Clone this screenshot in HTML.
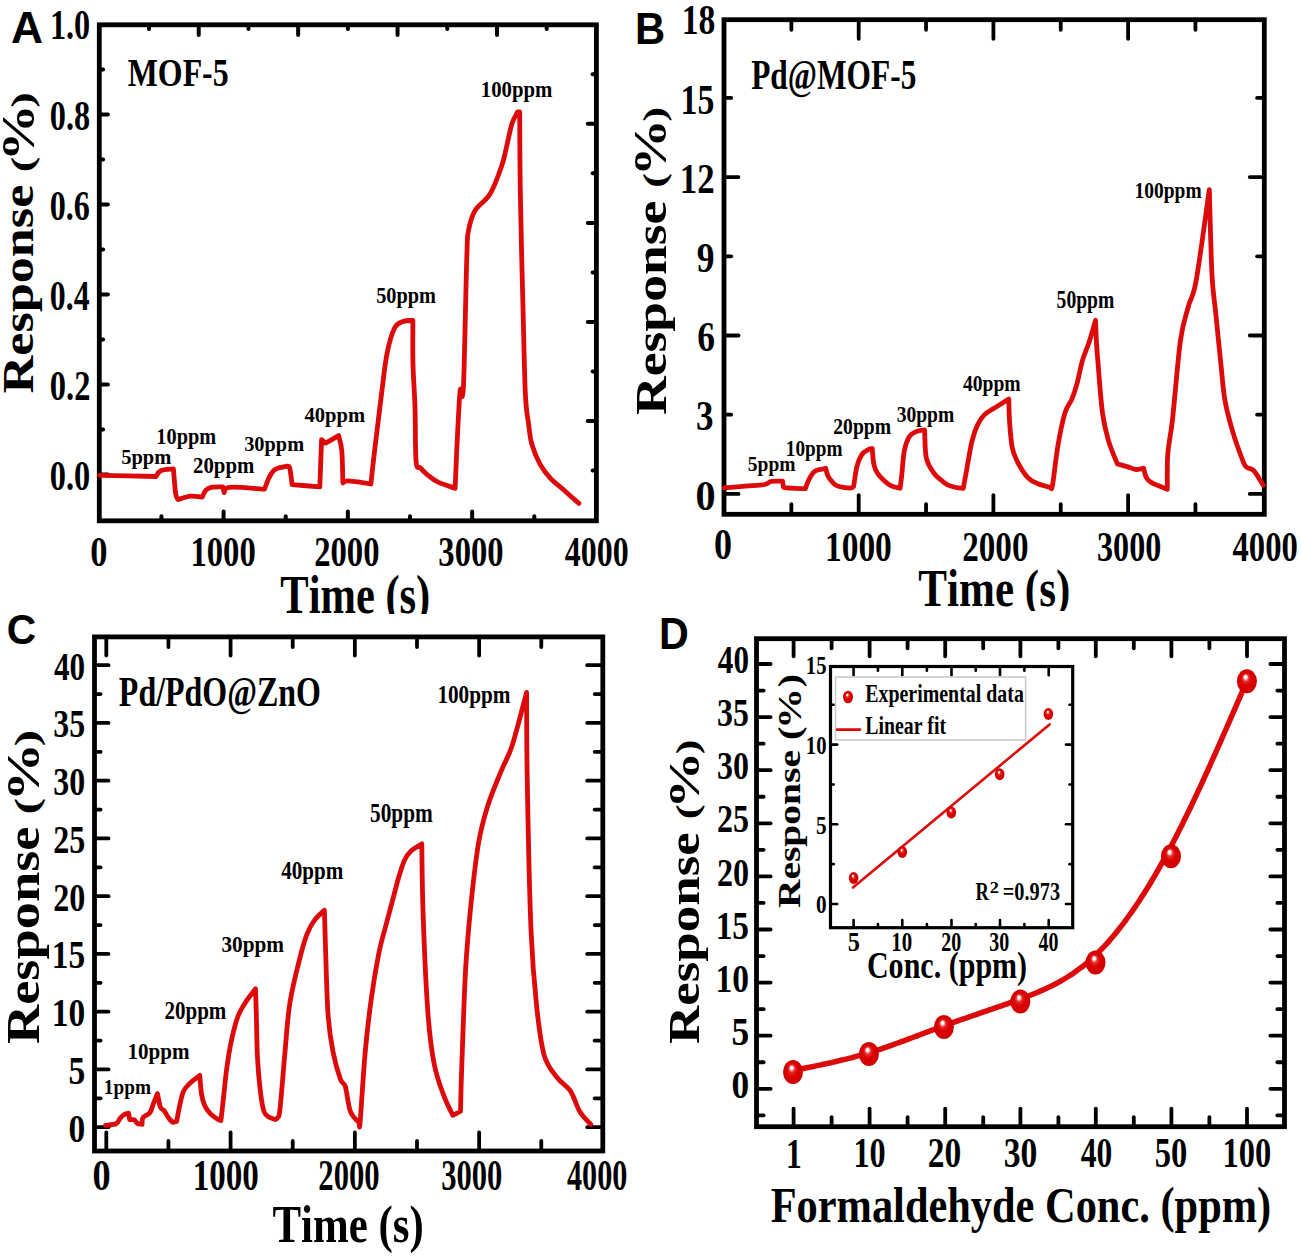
<!DOCTYPE html>
<html><head><meta charset="utf-8"><style>
html,body{margin:0;padding:0;background:#fff;overflow:hidden}
svg{display:block;font-kerning:none}
</style></head><body>
<svg width="1301" height="1256" viewBox="0 0 1301 1256">
<defs>
<radialGradient id="bg" cx="0.5" cy="0.5" r="0.5" fx="0.42" fy="0.3">
<stop offset="0" stop-color="#fff"/><stop offset="0.12" stop-color="#fff"/><stop offset="0.3" stop-color="#e43030"/><stop offset="0.55" stop-color="#dc0000"/><stop offset="1" stop-color="#cf0000"/>
</radialGradient>
<clipPath id="clipA"><rect x="0" y="0" width="650" height="614"/></clipPath>
<clipPath id="clipB"><rect x="620" y="0" width="681" height="611"/></clipPath>
</defs>
<rect width="1301" height="1256" fill="#fff"/>
<line x1="101.30" y1="474.60" x2="107.90" y2="474.60" stroke="#000" stroke-width="4.0" stroke-linecap="round"/>
<line x1="101.30" y1="429.60" x2="103.10" y2="429.60" stroke="#000" stroke-width="4.0" stroke-linecap="round"/>
<line x1="101.30" y1="384.60" x2="107.90" y2="384.60" stroke="#000" stroke-width="4.0" stroke-linecap="round"/>
<line x1="101.30" y1="339.60" x2="103.10" y2="339.60" stroke="#000" stroke-width="4.0" stroke-linecap="round"/>
<line x1="101.30" y1="294.60" x2="107.90" y2="294.60" stroke="#000" stroke-width="4.0" stroke-linecap="round"/>
<line x1="101.30" y1="249.60" x2="103.10" y2="249.60" stroke="#000" stroke-width="4.0" stroke-linecap="round"/>
<line x1="101.30" y1="204.60" x2="107.90" y2="204.60" stroke="#000" stroke-width="4.0" stroke-linecap="round"/>
<line x1="101.30" y1="159.60" x2="103.10" y2="159.60" stroke="#000" stroke-width="4.0" stroke-linecap="round"/>
<line x1="101.30" y1="114.60" x2="107.90" y2="114.60" stroke="#000" stroke-width="4.0" stroke-linecap="round"/>
<line x1="101.30" y1="69.60" x2="103.10" y2="69.60" stroke="#000" stroke-width="4.0" stroke-linecap="round"/>
<line x1="149.01" y1="26.80" x2="149.01" y2="29.00" stroke="#000" stroke-width="4.0" stroke-linecap="round"/>
<line x1="198.72" y1="26.80" x2="198.72" y2="35.00" stroke="#000" stroke-width="4.0" stroke-linecap="round"/>
<line x1="248.43" y1="26.80" x2="248.43" y2="29.00" stroke="#000" stroke-width="4.0" stroke-linecap="round"/>
<line x1="298.14" y1="26.80" x2="298.14" y2="35.00" stroke="#000" stroke-width="4.0" stroke-linecap="round"/>
<line x1="347.85" y1="26.80" x2="347.85" y2="29.00" stroke="#000" stroke-width="4.0" stroke-linecap="round"/>
<line x1="397.56" y1="26.80" x2="397.56" y2="35.00" stroke="#000" stroke-width="4.0" stroke-linecap="round"/>
<line x1="447.27" y1="26.80" x2="447.27" y2="29.00" stroke="#000" stroke-width="4.0" stroke-linecap="round"/>
<line x1="496.98" y1="26.80" x2="496.98" y2="35.00" stroke="#000" stroke-width="4.0" stroke-linecap="round"/>
<line x1="546.69" y1="26.80" x2="546.69" y2="29.00" stroke="#000" stroke-width="4.0" stroke-linecap="round"/>
<line x1="161.44" y1="518.80" x2="161.44" y2="516.20" stroke="#000" stroke-width="4.0" stroke-linecap="round"/>
<line x1="223.58" y1="518.80" x2="223.58" y2="511.60" stroke="#000" stroke-width="4.0" stroke-linecap="round"/>
<line x1="285.72" y1="518.80" x2="285.72" y2="516.20" stroke="#000" stroke-width="4.0" stroke-linecap="round"/>
<line x1="347.86" y1="518.80" x2="347.86" y2="511.60" stroke="#000" stroke-width="4.0" stroke-linecap="round"/>
<line x1="410.00" y1="518.80" x2="410.00" y2="516.20" stroke="#000" stroke-width="4.0" stroke-linecap="round"/>
<line x1="472.14" y1="518.80" x2="472.14" y2="511.60" stroke="#000" stroke-width="4.0" stroke-linecap="round"/>
<line x1="534.28" y1="518.80" x2="534.28" y2="516.20" stroke="#000" stroke-width="4.0" stroke-linecap="round"/>
<line x1="594.40" y1="74.32" x2="592.60" y2="74.32" stroke="#000" stroke-width="4.0" stroke-linecap="round"/>
<line x1="594.40" y1="123.84" x2="587.80" y2="123.84" stroke="#000" stroke-width="4.0" stroke-linecap="round"/>
<line x1="594.40" y1="173.36" x2="592.60" y2="173.36" stroke="#000" stroke-width="4.0" stroke-linecap="round"/>
<line x1="594.40" y1="222.88" x2="587.80" y2="222.88" stroke="#000" stroke-width="4.0" stroke-linecap="round"/>
<line x1="594.40" y1="272.40" x2="592.60" y2="272.40" stroke="#000" stroke-width="4.0" stroke-linecap="round"/>
<line x1="594.40" y1="321.92" x2="587.80" y2="321.92" stroke="#000" stroke-width="4.0" stroke-linecap="round"/>
<line x1="594.40" y1="371.44" x2="592.60" y2="371.44" stroke="#000" stroke-width="4.0" stroke-linecap="round"/>
<line x1="594.40" y1="420.96" x2="587.80" y2="420.96" stroke="#000" stroke-width="4.0" stroke-linecap="round"/>
<line x1="594.40" y1="470.48" x2="592.60" y2="470.48" stroke="#000" stroke-width="4.0" stroke-linecap="round"/>
<rect x="99.30" y="24.80" width="497.10" height="496.00" fill="none" stroke="#000" stroke-width="4.8" stroke-linejoin="miter"/>
<text transform="translate(11.09,42.80) scale(1.0220,1)" font-family="Liberation Sans" font-weight="bold" font-size="43.46" fill="#000">A</text>
<text transform="translate(49.92,39.17) scale(0.7823,1)" font-family="Liberation Serif" font-weight="bold" font-size="41.23" fill="#000">1.0</text>
<text transform="translate(49.77,489.82) scale(0.7853,1)" font-family="Liberation Serif" font-weight="bold" font-size="41.23" fill="#000">0.0</text>
<text transform="translate(49.76,399.82) scale(0.7885,1)" font-family="Liberation Serif" font-weight="bold" font-size="41.23" fill="#000">0.2</text>
<text transform="translate(49.79,309.82) scale(0.7724,1)" font-family="Liberation Serif" font-weight="bold" font-size="41.23" fill="#000">0.4</text>
<text transform="translate(49.78,219.82) scale(0.7794,1)" font-family="Liberation Serif" font-weight="bold" font-size="41.23" fill="#000">0.6</text>
<text transform="translate(49.77,129.82) scale(0.7820,1)" font-family="Liberation Serif" font-weight="bold" font-size="41.23" fill="#000">0.8</text>
<text transform="translate(90.19,565.69) scale(0.8185,1)" font-family="Liberation Serif" font-weight="bold" font-size="42.09" fill="#000">0</text>
<text transform="translate(190.38,565.69) scale(0.7765,1)" font-family="Liberation Serif" font-weight="bold" font-size="42.09" fill="#000">1000</text>
<text transform="translate(314.13,565.69) scale(0.7772,1)" font-family="Liberation Serif" font-weight="bold" font-size="42.09" fill="#000">2000</text>
<text transform="translate(438.37,565.69) scale(0.7754,1)" font-family="Liberation Serif" font-weight="bold" font-size="42.09" fill="#000">3000</text>
<text transform="translate(564.76,565.69) scale(0.7586,1)" font-family="Liberation Serif" font-weight="bold" font-size="42.09" fill="#000">4000</text>
<text transform="translate(127.76,85.50) scale(0.7818,1)" font-family="Liberation Serif" font-weight="bold" font-size="40.78" fill="#000" >MOF-5</text>
<g clip-path="url(#clipA)">
<text transform="translate(280.34,613.30) scale(0.7886,1)" font-family="Liberation Serif" font-weight="bold" font-size="53.91" fill="#000" >Time (s)</text>
</g>
<text transform="translate(33.40,393.39) rotate(-90) scale(1.1822,1)" font-family="Liberation Serif" font-weight="bold" font-size="44.14" >Response</text>
<text transform="translate(32.58,107.81) rotate(-90) scale(1.5023,1)" font-family="Liberation Serif" font-weight="bold" font-size="31.10">)</text>
<text transform="translate(33.80,161.36) rotate(-90) scale(1.2454,1)" font-family="Liberation Serif" font-weight="bold" font-size="45.86">%</text>
<text transform="translate(32.58,172.35) rotate(-90) scale(1.5023,1)" font-family="Liberation Serif" font-weight="bold" font-size="31.10">(</text>
<text transform="translate(121.18,464.26) scale(0.9419,1)" font-family="Liberation Serif" font-weight="bold" font-size="21.78" fill="#000">5ppm</text>
<text transform="translate(156.37,444.15) scale(0.8924,1)" font-family="Liberation Serif" font-weight="bold" font-size="22.78" fill="#000">10ppm</text>
<text transform="translate(193.03,473.07) scale(0.9171,1)" font-family="Liberation Serif" font-weight="bold" font-size="22.67" fill="#000">20ppm</text>
<text transform="translate(244.13,450.64) scale(0.9938,1)" font-family="Liberation Serif" font-weight="bold" font-size="20.50" fill="#000">30ppm</text>
<text transform="translate(304.52,422.39) scale(0.9512,1)" font-family="Liberation Serif" font-weight="bold" font-size="21.64" fill="#000">40ppm</text>
<text transform="translate(376.19,302.97) scale(0.8966,1)" font-family="Liberation Serif" font-weight="bold" font-size="22.67" fill="#000">50ppm</text>
<text transform="translate(480.73,96.73) scale(0.8745,1)" font-family="Liberation Serif" font-weight="bold" font-size="23.81" fill="#000">100ppm</text>
<path d="M99.6,475.3 C109.0,475.5 146.7,476.3 156.1,476.5 C156.9,475.5 157.8,472.0 160.7,470.7 C163.6,469.4 171.3,469.2 173.4,468.9 C173.8,473.0 174.9,488.7 175.7,493.8 C176.5,498.9 177.6,498.6 178.0,499.5 C180.1,498.9 186.7,496.5 190.7,496.1 C194.7,495.7 200.3,497.0 202.2,497.2 C202.8,496.1 204.2,491.9 205.7,490.3 C207.2,488.7 208.5,487.9 211.4,487.3 C214.3,486.7 221.1,487.0 223.0,486.9 C223.2,487.8 223.9,491.7 224.1,492.6 C225.1,491.7 223.2,487.9 229.9,487.3 C236.6,486.7 258.7,488.9 264.5,489.2 C265.3,487.3 267.4,480.9 269.1,477.6 C270.8,474.3 271.7,471.5 274.8,469.6 C277.9,467.7 285.4,466.7 287.5,466.1 C287.9,466.5 289.0,465.3 289.8,468.4 C290.6,471.5 291.7,481.9 292.1,484.6 C296.7,485.0 315.2,486.5 319.8,486.9 C320.1,479.0 321.3,447.5 321.6,439.6 C322.3,440.2 324.9,442.5 325.6,443.1 C327.8,441.9 336.4,436.9 338.6,435.6 C339.1,438.1 341.1,442.8 341.8,450.7 C342.5,458.6 342.7,477.6 342.9,483.0 C343.6,482.6 344.7,481.0 347.2,480.8 C349.7,480.6 354.1,481.4 358.0,481.9 C361.9,482.4 368.8,483.6 370.9,484.0 C371.4,479.2 372.3,470.2 374.1,455.0 C375.9,439.8 379.6,409.5 381.7,392.6 C383.8,375.7 384.9,364.6 387.0,353.8 C389.1,343.0 391.9,333.4 394.6,328.0 C397.3,322.6 400.1,322.8 403.2,321.5 C406.2,320.2 411.3,320.6 412.9,320.4 C412.9,327.8 412.6,350.1 413.0,364.6 C413.4,379.1 414.5,391.5 415.0,407.6 C415.5,423.7 415.2,451.3 416.1,461.4 C417.0,471.4 418.6,465.8 420.4,467.9 C422.2,470.0 424.0,472.0 426.9,474.3 C429.8,476.6 432.9,479.6 437.6,481.9 C442.3,484.2 452.2,487.2 455.1,488.3 C455.4,482.2 455.9,467.7 456.7,451.5 C457.5,435.3 459.0,401.9 460.1,391.3 C461.2,380.7 462.3,410.2 463.4,387.9 C464.5,365.6 465.9,283.6 466.8,257.4 C467.7,231.2 467.1,238.4 468.5,230.6 C469.9,222.8 471.5,216.6 475.1,210.5 C478.7,204.4 485.7,201.3 490.2,193.8 C494.7,186.3 499.1,173.4 501.9,165.3 C504.7,157.2 505.2,152.2 506.9,145.2 C508.6,138.2 510.2,129.1 512.0,123.5 C513.8,117.9 516.8,113.8 517.7,111.8 C518.0,111.8 519.4,111.8 519.7,111.8 C519.8,124.9 519.8,157.8 520.3,190.4 C520.8,223.0 522.1,273.6 523.0,307.6 C523.9,341.6 524.4,375.1 525.4,394.6 C526.4,414.1 527.6,416.3 528.7,424.7 C529.8,433.1 530.0,438.1 532.0,444.8 C534.0,451.5 537.3,459.3 540.4,464.9 C543.5,470.5 546.6,474.1 550.5,478.3 C554.4,482.5 559.1,485.8 563.8,490.0 C568.5,494.2 576.4,501.2 578.9,503.4" fill="none" stroke="#dc0a0a" stroke-width="4.8" stroke-linejoin="round" stroke-linecap="round"/>
<line x1="725.90" y1="493.90" x2="738.50" y2="493.90" stroke="#000" stroke-width="3.8" stroke-linecap="round"/>
<line x1="1262.40" y1="493.90" x2="1249.80" y2="493.90" stroke="#000" stroke-width="3.8" stroke-linecap="round"/>
<line x1="725.90" y1="414.70" x2="731.20" y2="414.70" stroke="#000" stroke-width="3.8" stroke-linecap="round"/>
<line x1="1262.40" y1="414.70" x2="1257.10" y2="414.70" stroke="#000" stroke-width="3.8" stroke-linecap="round"/>
<line x1="725.90" y1="335.50" x2="738.50" y2="335.50" stroke="#000" stroke-width="3.8" stroke-linecap="round"/>
<line x1="1262.40" y1="335.50" x2="1249.80" y2="335.50" stroke="#000" stroke-width="3.8" stroke-linecap="round"/>
<line x1="725.90" y1="256.30" x2="731.20" y2="256.30" stroke="#000" stroke-width="3.8" stroke-linecap="round"/>
<line x1="1262.40" y1="256.30" x2="1257.10" y2="256.30" stroke="#000" stroke-width="3.8" stroke-linecap="round"/>
<line x1="725.90" y1="177.10" x2="738.50" y2="177.10" stroke="#000" stroke-width="3.8" stroke-linecap="round"/>
<line x1="1262.40" y1="177.10" x2="1249.80" y2="177.10" stroke="#000" stroke-width="3.8" stroke-linecap="round"/>
<line x1="725.90" y1="97.90" x2="731.20" y2="97.90" stroke="#000" stroke-width="3.8" stroke-linecap="round"/>
<line x1="1262.40" y1="97.90" x2="1257.10" y2="97.90" stroke="#000" stroke-width="3.8" stroke-linecap="round"/>
<line x1="791.35" y1="512.40" x2="791.35" y2="504.20" stroke="#000" stroke-width="3.8" stroke-linecap="round"/>
<line x1="791.35" y1="21.60" x2="791.35" y2="29.80" stroke="#000" stroke-width="3.8" stroke-linecap="round"/>
<line x1="858.70" y1="512.40" x2="858.70" y2="495.20" stroke="#000" stroke-width="3.8" stroke-linecap="round"/>
<line x1="858.70" y1="21.60" x2="858.70" y2="38.80" stroke="#000" stroke-width="3.8" stroke-linecap="round"/>
<line x1="926.05" y1="512.40" x2="926.05" y2="504.20" stroke="#000" stroke-width="3.8" stroke-linecap="round"/>
<line x1="926.05" y1="21.60" x2="926.05" y2="29.80" stroke="#000" stroke-width="3.8" stroke-linecap="round"/>
<line x1="993.40" y1="512.40" x2="993.40" y2="495.20" stroke="#000" stroke-width="3.8" stroke-linecap="round"/>
<line x1="993.40" y1="21.60" x2="993.40" y2="38.80" stroke="#000" stroke-width="3.8" stroke-linecap="round"/>
<line x1="1060.75" y1="512.40" x2="1060.75" y2="504.20" stroke="#000" stroke-width="3.8" stroke-linecap="round"/>
<line x1="1060.75" y1="21.60" x2="1060.75" y2="29.80" stroke="#000" stroke-width="3.8" stroke-linecap="round"/>
<line x1="1128.10" y1="512.40" x2="1128.10" y2="495.20" stroke="#000" stroke-width="3.8" stroke-linecap="round"/>
<line x1="1128.10" y1="21.60" x2="1128.10" y2="38.80" stroke="#000" stroke-width="3.8" stroke-linecap="round"/>
<line x1="1195.45" y1="512.40" x2="1195.45" y2="504.20" stroke="#000" stroke-width="3.8" stroke-linecap="round"/>
<line x1="1195.45" y1="21.60" x2="1195.45" y2="29.80" stroke="#000" stroke-width="3.8" stroke-linecap="round"/>
<rect x="724.00" y="19.70" width="540.30" height="494.60" fill="none" stroke="#000" stroke-width="4.8" stroke-linejoin="miter"/>
<text transform="translate(634.90,44.40) scale(0.9494,1)" font-family="Liberation Sans" font-weight="bold" font-size="44.04" fill="#000">B</text>
<text transform="translate(681.81,34.39) scale(0.8042,1)" font-family="Liberation Serif" font-weight="bold" font-size="41.79" fill="#000">18</text>
<text transform="translate(680.60,113.59) scale(0.8015,1)" font-family="Liberation Serif" font-weight="bold" font-size="42.09" fill="#000">15</text>
<text transform="translate(679.81,193.20) scale(0.8166,1)" font-family="Liberation Serif" font-weight="bold" font-size="42.59" fill="#000">12</text>
<text transform="translate(696.63,271.99) scale(0.8460,1)" font-family="Liberation Serif" font-weight="bold" font-size="41.97" fill="#000">9</text>
<text transform="translate(697.29,351.19) scale(0.8460,1)" font-family="Liberation Serif" font-weight="bold" font-size="41.97" fill="#000">6</text>
<text transform="translate(696.08,430.39) scale(0.8346,1)" font-family="Liberation Serif" font-weight="bold" font-size="41.97" fill="#000">3</text>
<text transform="translate(695.47,509.59) scale(0.9598,1)" font-family="Liberation Serif" font-weight="bold" font-size="41.79" fill="#000">0</text>
<text transform="translate(714.03,558.78) scale(0.8343,1)" font-family="Liberation Serif" font-weight="bold" font-size="43.27" fill="#000">0</text>
<text transform="translate(824.92,561.09) scale(0.7927,1)" font-family="Liberation Serif" font-weight="bold" font-size="42.23" fill="#000">1000</text>
<text transform="translate(962.21,561.09) scale(0.7843,1)" font-family="Liberation Serif" font-weight="bold" font-size="42.23" fill="#000">2000</text>
<text transform="translate(1097.09,561.09) scale(0.7592,1)" font-family="Liberation Serif" font-weight="bold" font-size="42.23" fill="#000">3000</text>
<text transform="translate(1232.55,561.09) scale(0.7729,1)" font-family="Liberation Serif" font-weight="bold" font-size="42.23" fill="#000">4000</text>
<text transform="translate(751.16,88.70) scale(0.7617,1)" font-family="Liberation Serif" font-weight="bold" font-size="41.23" fill="#000" >Pd@MOF-5</text>
<g clip-path="url(#clipB)">
<text transform="translate(918.33,606.30) scale(0.8178,1)" font-family="Liberation Serif" font-weight="bold" font-size="52.69" fill="#000" >Time (s)</text>
</g>
<text transform="translate(665.60,414.92) rotate(-90) scale(1.2054,1)" font-family="Liberation Serif" font-weight="bold" font-size="44.44" >Response</text>
<text transform="translate(665.44,121.74) rotate(-90) scale(1.3904,1)" font-family="Liberation Serif" font-weight="bold" font-size="32.20">)</text>
<text transform="translate(666.39,176.42) rotate(-90) scale(1.2430,1)" font-family="Liberation Serif" font-weight="bold" font-size="46.44">%</text>
<text transform="translate(665.44,187.65) rotate(-90) scale(1.3783,1)" font-family="Liberation Serif" font-weight="bold" font-size="32.20">(</text>
<text transform="translate(747.82,470.51) scale(0.8883,1)" font-family="Liberation Serif" font-weight="bold" font-size="22.01" fill="#000">5ppm</text>
<text transform="translate(785.86,456.08) scale(0.8306,1)" font-family="Liberation Serif" font-weight="bold" font-size="23.12" fill="#000">10ppm</text>
<text transform="translate(833.28,434.43) scale(0.8238,1)" font-family="Liberation Serif" font-weight="bold" font-size="23.81" fill="#000">20ppm</text>
<text transform="translate(896.66,421.93) scale(0.8225,1)" font-family="Liberation Serif" font-weight="bold" font-size="23.81" fill="#000">30ppm</text>
<text transform="translate(962.93,391.23) scale(0.8244,1)" font-family="Liberation Serif" font-weight="bold" font-size="23.81" fill="#000">40ppm</text>
<text transform="translate(1056.62,308.09) scale(0.8002,1)" font-family="Liberation Serif" font-weight="bold" font-size="24.49" fill="#000">50ppm</text>
<text transform="translate(1134.54,197.53) scale(0.8180,1)" font-family="Liberation Serif" font-weight="bold" font-size="23.81" fill="#000">100ppm</text>
<path d="M724.2,487.9 C727.7,487.6 738.6,486.8 745.4,486.2 C752.2,485.6 760.6,485.3 764.8,484.5 C769.0,483.7 768.6,482.1 770.7,481.5 C772.8,480.9 775.5,481.2 777.5,481.1 C779.5,481.0 781.8,481.1 782.6,481.1 C782.7,482.2 783.3,486.3 783.4,487.4 C784.7,487.5 787.3,488.0 791.0,488.2 C794.7,488.4 803.0,488.6 805.4,488.7 C806.0,487.2 807.2,482.7 808.8,479.8 C810.3,476.9 812.6,473.1 814.7,471.3 C816.8,469.6 819.7,469.8 821.5,469.3 C823.3,468.8 825.0,468.5 825.7,468.3 C826.1,469.6 826.9,473.9 828.2,476.4 C829.5,478.9 831.6,481.5 833.3,483.1 C835.0,484.7 835.6,485.4 838.4,486.2 C841.2,487.0 847.7,488.1 850.2,488.2 C852.7,488.2 853.0,486.8 853.6,486.5 C854.2,483.1 855.6,471.6 857.0,466.2 C858.4,460.8 860.2,457.1 862.0,454.4 C863.8,451.6 866.3,450.7 868.0,449.7 C869.7,448.7 871.5,448.7 872.2,448.5 C872.5,451.2 873.0,460.4 873.9,464.5 C874.8,468.6 875.6,470.3 877.3,473.0 C879.0,475.7 881.8,478.5 884.0,480.6 C886.2,482.7 888.1,484.4 890.8,485.7 C893.5,487.0 898.5,487.8 900.1,488.2 C900.4,485.9 901.1,480.9 901.8,474.7 C902.5,468.5 903.0,457.4 904.3,451.0 C905.6,444.6 907.4,439.8 909.4,436.6 C911.4,433.4 913.6,432.7 916.1,431.6 C918.6,430.5 923.2,430.2 924.6,429.9 C924.9,434.5 924.8,450.7 926.3,457.8 C927.8,464.9 931.1,469.0 933.5,472.6 C935.9,476.2 938.2,477.6 940.5,479.6 C942.8,481.7 944.9,483.6 947.5,484.9 C950.1,486.2 953.7,486.9 956.3,487.5 C958.9,488.1 962.1,488.2 963.3,488.4 C963.9,485.2 965.3,477.0 966.8,469.1 C968.2,461.2 970.2,448.4 972.0,441.1 C973.8,433.8 975.2,429.8 977.3,425.4 C979.3,421.0 981.4,417.8 984.3,414.9 C987.2,412.0 990.7,410.4 994.8,407.8 C998.9,405.2 1006.5,400.6 1008.8,399.1 C1008.9,403.2 1009.1,415.4 1009.7,423.6 C1010.3,431.8 1011.0,441.7 1012.3,448.1 C1013.6,454.5 1015.0,457.1 1017.6,462.1 C1020.2,467.1 1024.6,474.2 1028.1,477.9 C1031.6,481.5 1034.8,482.4 1038.6,484.0 C1042.4,485.6 1048.8,486.9 1050.8,487.5 C1051.1,487.1 1051.4,491.8 1052.6,484.9 C1053.8,478.0 1055.8,458.4 1057.8,446.4 C1059.8,434.4 1062.6,421.0 1064.9,413.1 C1067.2,405.2 1069.9,404.1 1071.9,399.1 C1073.9,394.1 1075.3,389.7 1077.1,383.3 C1078.8,376.9 1080.4,367.6 1082.4,360.6 C1084.5,353.6 1087.2,348.0 1089.4,341.3 C1091.6,334.6 1094.5,323.8 1095.5,320.3 C1095.7,323.8 1096.0,334.0 1096.4,341.3 C1096.8,348.6 1097.1,352.1 1098.1,364.1 C1099.1,376.1 1100.8,400.3 1102.5,413.1 C1104.2,425.9 1106.1,432.6 1108.6,441.1 C1111.1,449.6 1115.9,460.1 1117.4,463.9 C1119.2,464.4 1124.8,466.0 1127.9,466.9 C1131.0,467.8 1133.2,469.3 1135.8,469.5 C1138.4,469.7 1142.3,468.4 1143.6,468.2 C1144.0,469.7 1145.0,475.0 1146.3,477.4 C1147.6,479.8 1148.0,480.7 1151.5,482.7 C1155.0,484.7 1164.7,488.1 1167.3,489.2 C1167.4,483.3 1166.9,465.4 1167.8,453.8 C1168.7,442.2 1170.4,438.4 1172.5,419.6 C1174.6,400.8 1177.8,359.6 1180.4,340.8 C1183.0,322.0 1185.7,316.7 1188.3,306.6 C1190.9,296.5 1192.7,299.9 1196.2,280.4 C1199.7,260.9 1207.1,204.8 1209.3,189.7 C1209.8,203.9 1210.9,254.3 1212.0,275.1 C1213.1,295.9 1214.4,299.2 1215.9,314.5 C1217.4,329.8 1219.7,352.7 1221.2,367.1 C1222.7,381.6 1223.1,390.3 1225.1,401.2 C1227.1,412.1 1230.2,423.1 1233.0,432.7 C1235.8,442.3 1240.0,453.3 1242.2,459.0 C1244.4,464.7 1244.1,464.9 1246.1,466.9 C1248.1,468.9 1251.2,467.7 1254.0,470.8 C1256.8,473.9 1261.7,482.9 1263.2,485.3" fill="none" stroke="#dc0a0a" stroke-width="4.8" stroke-linejoin="round" stroke-linecap="round"/>
<line x1="96.40" y1="1127.20" x2="108.50" y2="1127.20" stroke="#000" stroke-width="3.8" stroke-linecap="round"/>
<line x1="600.90" y1="1127.20" x2="587.20" y2="1127.20" stroke="#000" stroke-width="3.8" stroke-linecap="round"/>
<line x1="96.40" y1="1098.33" x2="100.60" y2="1098.33" stroke="#000" stroke-width="3.8" stroke-linecap="round"/>
<line x1="600.90" y1="1098.33" x2="594.70" y2="1098.33" stroke="#000" stroke-width="3.8" stroke-linecap="round"/>
<line x1="96.40" y1="1069.45" x2="108.50" y2="1069.45" stroke="#000" stroke-width="3.8" stroke-linecap="round"/>
<line x1="600.90" y1="1069.45" x2="587.20" y2="1069.45" stroke="#000" stroke-width="3.8" stroke-linecap="round"/>
<line x1="96.40" y1="1040.58" x2="100.60" y2="1040.58" stroke="#000" stroke-width="3.8" stroke-linecap="round"/>
<line x1="600.90" y1="1040.58" x2="594.70" y2="1040.58" stroke="#000" stroke-width="3.8" stroke-linecap="round"/>
<line x1="96.40" y1="1011.70" x2="108.50" y2="1011.70" stroke="#000" stroke-width="3.8" stroke-linecap="round"/>
<line x1="600.90" y1="1011.70" x2="587.20" y2="1011.70" stroke="#000" stroke-width="3.8" stroke-linecap="round"/>
<line x1="96.40" y1="982.83" x2="100.60" y2="982.83" stroke="#000" stroke-width="3.8" stroke-linecap="round"/>
<line x1="600.90" y1="982.83" x2="594.70" y2="982.83" stroke="#000" stroke-width="3.8" stroke-linecap="round"/>
<line x1="96.40" y1="953.95" x2="108.50" y2="953.95" stroke="#000" stroke-width="3.8" stroke-linecap="round"/>
<line x1="600.90" y1="953.95" x2="587.20" y2="953.95" stroke="#000" stroke-width="3.8" stroke-linecap="round"/>
<line x1="96.40" y1="925.08" x2="100.60" y2="925.08" stroke="#000" stroke-width="3.8" stroke-linecap="round"/>
<line x1="600.90" y1="925.08" x2="594.70" y2="925.08" stroke="#000" stroke-width="3.8" stroke-linecap="round"/>
<line x1="96.40" y1="896.20" x2="108.50" y2="896.20" stroke="#000" stroke-width="3.8" stroke-linecap="round"/>
<line x1="600.90" y1="896.20" x2="587.20" y2="896.20" stroke="#000" stroke-width="3.8" stroke-linecap="round"/>
<line x1="96.40" y1="867.33" x2="100.60" y2="867.33" stroke="#000" stroke-width="3.8" stroke-linecap="round"/>
<line x1="600.90" y1="867.33" x2="594.70" y2="867.33" stroke="#000" stroke-width="3.8" stroke-linecap="round"/>
<line x1="96.40" y1="838.45" x2="108.50" y2="838.45" stroke="#000" stroke-width="3.8" stroke-linecap="round"/>
<line x1="600.90" y1="838.45" x2="587.20" y2="838.45" stroke="#000" stroke-width="3.8" stroke-linecap="round"/>
<line x1="96.40" y1="809.58" x2="100.60" y2="809.58" stroke="#000" stroke-width="3.8" stroke-linecap="round"/>
<line x1="600.90" y1="809.58" x2="594.70" y2="809.58" stroke="#000" stroke-width="3.8" stroke-linecap="round"/>
<line x1="96.40" y1="780.70" x2="108.50" y2="780.70" stroke="#000" stroke-width="3.8" stroke-linecap="round"/>
<line x1="600.90" y1="780.70" x2="587.20" y2="780.70" stroke="#000" stroke-width="3.8" stroke-linecap="round"/>
<line x1="96.40" y1="751.83" x2="100.60" y2="751.83" stroke="#000" stroke-width="3.8" stroke-linecap="round"/>
<line x1="600.90" y1="751.83" x2="594.70" y2="751.83" stroke="#000" stroke-width="3.8" stroke-linecap="round"/>
<line x1="96.40" y1="722.95" x2="108.50" y2="722.95" stroke="#000" stroke-width="3.8" stroke-linecap="round"/>
<line x1="600.90" y1="722.95" x2="587.20" y2="722.95" stroke="#000" stroke-width="3.8" stroke-linecap="round"/>
<line x1="96.40" y1="694.08" x2="100.60" y2="694.08" stroke="#000" stroke-width="3.8" stroke-linecap="round"/>
<line x1="600.90" y1="694.08" x2="594.70" y2="694.08" stroke="#000" stroke-width="3.8" stroke-linecap="round"/>
<line x1="96.40" y1="665.20" x2="108.50" y2="665.20" stroke="#000" stroke-width="3.8" stroke-linecap="round"/>
<line x1="600.90" y1="665.20" x2="587.20" y2="665.20" stroke="#000" stroke-width="3.8" stroke-linecap="round"/>
<line x1="106.30" y1="1149.10" x2="106.30" y2="1132.40" stroke="#000" stroke-width="3.8" stroke-linecap="round"/>
<line x1="106.30" y1="638.80" x2="106.30" y2="655.50" stroke="#000" stroke-width="3.8" stroke-linecap="round"/>
<line x1="168.44" y1="1149.10" x2="168.44" y2="1140.90" stroke="#000" stroke-width="3.8" stroke-linecap="round"/>
<line x1="168.44" y1="638.80" x2="168.44" y2="647.00" stroke="#000" stroke-width="3.8" stroke-linecap="round"/>
<line x1="230.58" y1="1149.10" x2="230.58" y2="1132.40" stroke="#000" stroke-width="3.8" stroke-linecap="round"/>
<line x1="230.58" y1="638.80" x2="230.58" y2="655.50" stroke="#000" stroke-width="3.8" stroke-linecap="round"/>
<line x1="292.72" y1="1149.10" x2="292.72" y2="1140.90" stroke="#000" stroke-width="3.8" stroke-linecap="round"/>
<line x1="292.72" y1="638.80" x2="292.72" y2="647.00" stroke="#000" stroke-width="3.8" stroke-linecap="round"/>
<line x1="354.86" y1="1149.10" x2="354.86" y2="1132.40" stroke="#000" stroke-width="3.8" stroke-linecap="round"/>
<line x1="354.86" y1="638.80" x2="354.86" y2="655.50" stroke="#000" stroke-width="3.8" stroke-linecap="round"/>
<line x1="417.00" y1="1149.10" x2="417.00" y2="1140.90" stroke="#000" stroke-width="3.8" stroke-linecap="round"/>
<line x1="417.00" y1="638.80" x2="417.00" y2="647.00" stroke="#000" stroke-width="3.8" stroke-linecap="round"/>
<line x1="479.14" y1="1149.10" x2="479.14" y2="1132.40" stroke="#000" stroke-width="3.8" stroke-linecap="round"/>
<line x1="479.14" y1="638.80" x2="479.14" y2="655.50" stroke="#000" stroke-width="3.8" stroke-linecap="round"/>
<line x1="541.28" y1="1149.10" x2="541.28" y2="1140.90" stroke="#000" stroke-width="3.8" stroke-linecap="round"/>
<line x1="541.28" y1="638.80" x2="541.28" y2="647.00" stroke="#000" stroke-width="3.8" stroke-linecap="round"/>
<rect x="94.50" y="636.90" width="508.30" height="514.10" fill="none" stroke="#000" stroke-width="4.8" stroke-linejoin="miter"/>
<text transform="translate(6.73,644.48) scale(0.9383,1)" font-family="Liberation Sans" font-weight="bold" font-size="43.36" fill="#000">C</text>
<text transform="translate(68.52,1141.61) scale(0.8374,1)" font-family="Liberation Serif" font-weight="bold" font-size="40.01" fill="#000">0</text>
<text transform="translate(68.46,1083.85) scale(0.8256,1)" font-family="Liberation Serif" font-weight="bold" font-size="40.63" fill="#000">5</text>
<text transform="translate(51.82,1026.11) scale(0.8361,1)" font-family="Liberation Serif" font-weight="bold" font-size="40.01" fill="#000">10</text>
<text transform="translate(51.83,968.36) scale(0.8287,1)" font-family="Liberation Serif" font-weight="bold" font-size="40.30" fill="#000">15</text>
<text transform="translate(53.15,910.61) scale(0.8015,1)" font-family="Liberation Serif" font-weight="bold" font-size="40.01" fill="#000">20</text>
<text transform="translate(53.16,852.86) scale(0.7967,1)" font-family="Liberation Serif" font-weight="bold" font-size="40.19" fill="#000">25</text>
<text transform="translate(53.30,795.11) scale(0.7977,1)" font-family="Liberation Serif" font-weight="bold" font-size="40.01" fill="#000">30</text>
<text transform="translate(53.30,737.36) scale(0.7929,1)" font-family="Liberation Serif" font-weight="bold" font-size="40.19" fill="#000">35</text>
<text transform="translate(54.07,679.61) scale(0.7775,1)" font-family="Liberation Serif" font-weight="bold" font-size="40.01" fill="#000">40</text>
<text transform="translate(92.42,1190.28) scale(0.8397,1)" font-family="Liberation Serif" font-weight="bold" font-size="43.27" fill="#000">0</text>
<text transform="translate(192.65,1190.28) scale(0.7651,1)" font-family="Liberation Serif" font-weight="bold" font-size="43.27" fill="#000">1000</text>
<text transform="translate(318.31,1190.28) scale(0.7090,1)" font-family="Liberation Serif" font-weight="bold" font-size="43.27" fill="#000">2000</text>
<text transform="translate(441.15,1190.28) scale(0.7073,1)" font-family="Liberation Serif" font-weight="bold" font-size="43.27" fill="#000">3000</text>
<text transform="translate(566.99,1190.28) scale(0.6987,1)" font-family="Liberation Serif" font-weight="bold" font-size="43.27" fill="#000">4000</text>
<text transform="translate(118.85,706.10) scale(0.7562,1)" font-family="Liberation Serif" font-weight="bold" font-size="42.30" fill="#000" >Pd/PdO@ZnO</text>
<text transform="translate(272.43,1242.00) scale(0.7983,1)" font-family="Liberation Serif" font-weight="bold" font-size="53.76" fill="#000" >Time (s)</text>
<text transform="translate(39.20,1044.03) rotate(-90) scale(1.1829,1)" font-family="Liberation Serif" font-weight="bold" font-size="45.97" >Response</text>
<text transform="translate(38.40,746.42) rotate(-90) scale(1.4458,1)" font-family="Liberation Serif" font-weight="bold" font-size="34.74">)</text>
<text transform="translate(39.49,801.53) rotate(-90) scale(1.2671,1)" font-family="Liberation Serif" font-weight="bold" font-size="46.44">%</text>
<text transform="translate(38.40,814.41) rotate(-90) scale(1.4458,1)" font-family="Liberation Serif" font-weight="bold" font-size="34.74">(</text>
<text transform="translate(103.86,1094.42) scale(0.8772,1)" font-family="Liberation Serif" font-weight="bold" font-size="21.99" fill="#000">1ppm</text>
<text transform="translate(127.51,1059.48) scale(0.8935,1)" font-family="Liberation Serif" font-weight="bold" font-size="23.58" fill="#000">10ppm</text>
<text transform="translate(164.42,1018.56) scale(0.8562,1)" font-family="Liberation Serif" font-weight="bold" font-size="24.60" fill="#000">20ppm</text>
<text transform="translate(221.40,951.86) scale(0.8980,1)" font-family="Liberation Serif" font-weight="bold" font-size="23.69" fill="#000">30ppm</text>
<text transform="translate(281.21,878.94) scale(0.8382,1)" font-family="Liberation Serif" font-weight="bold" font-size="25.17" fill="#000">40ppm</text>
<text transform="translate(370.05,822.00) scale(0.8093,1)" font-family="Liberation Serif" font-weight="bold" font-size="26.31" fill="#000">50ppm</text>
<text transform="translate(437.40,703.04) scale(0.8436,1)" font-family="Liberation Serif" font-weight="bold" font-size="25.17" fill="#000">100ppm</text>
<path d="M105.6,1125.3 C107.3,1125.0 113.7,1124.8 116.1,1123.7 C118.5,1122.6 118.7,1120.0 120.0,1118.5 C121.3,1117.0 122.4,1115.6 123.8,1114.7 C125.2,1113.8 127.8,1113.5 128.6,1113.3 C128.8,1114.3 129.4,1118.5 129.6,1119.5 C130.4,1119.6 133.1,1119.3 134.4,1119.9 C135.7,1120.5 136.0,1122.6 137.3,1123.3 C138.6,1124.0 141.3,1124.1 142.1,1124.3 C142.2,1123.2 141.7,1119.5 143.0,1117.6 C144.3,1115.7 148.0,1115.2 149.8,1112.8 C151.6,1110.4 152.3,1106.4 153.6,1103.2 C154.9,1100.0 156.8,1095.2 157.5,1093.6 C158.0,1095.8 159.2,1104.1 160.3,1107.0 C161.4,1109.9 162.8,1108.9 164.2,1110.8 C165.6,1112.7 167.6,1116.6 169.0,1118.5 C170.4,1120.4 172.2,1121.8 172.8,1122.4 C173.5,1122.2 176.0,1121.6 176.7,1121.4 C177.2,1118.8 178.5,1111.0 179.6,1106.0 C180.7,1101.0 181.8,1095.3 183.4,1091.6 C185.0,1087.9 186.5,1086.7 189.2,1084.0 C191.9,1081.3 197.9,1076.8 199.7,1075.3 C200.0,1078.5 200.8,1089.5 201.6,1094.5 C202.4,1099.5 203.1,1101.9 204.5,1105.1 C205.9,1108.3 208.1,1111.3 210.3,1113.7 C212.6,1116.1 216.2,1118.4 218.0,1119.5 C219.8,1120.6 220.4,1120.3 220.9,1120.5 C221.2,1117.8 221.9,1112.6 222.8,1104.1 C223.8,1095.6 225.2,1080.1 226.6,1069.5 C228.0,1058.9 229.5,1049.7 231.4,1040.7 C233.3,1031.7 235.6,1022.4 238.2,1015.7 C240.8,1009.0 243.9,1004.9 246.8,1000.4 C249.7,995.9 254.1,990.7 255.5,988.8 C255.7,993.6 256.1,1006.4 256.4,1017.6 C256.7,1028.8 256.8,1043.9 257.4,1056.1 C258.0,1068.3 259.2,1081.4 260.3,1090.7 C261.4,1100.0 262.5,1107.3 264.1,1111.8 C265.7,1116.3 268.0,1116.3 269.9,1117.6 C271.8,1118.9 274.7,1119.2 275.6,1119.5 C275.9,1119.2 276.9,1119.3 277.6,1117.6 C278.3,1115.8 278.8,1119.9 280.0,1109.0 C281.2,1098.1 283.4,1069.7 285.0,1052.0 C286.6,1034.3 287.4,1018.4 289.9,1002.8 C292.4,987.2 296.9,969.9 299.8,958.4 C302.7,946.9 304.7,940.1 307.2,933.7 C309.7,927.3 311.7,924.0 314.6,920.1 C317.5,916.2 322.8,911.9 324.4,910.2 C324.6,917.4 325.1,936.0 325.7,953.5 C326.3,971.0 326.9,998.8 328.1,1015.2 C329.3,1031.7 331.0,1041.5 333.1,1052.2 C335.2,1062.9 338.4,1073.6 340.5,1079.4 C342.6,1085.2 343.8,1081.5 345.4,1086.8 C347.0,1092.1 348.1,1105.5 350.4,1111.5 C352.7,1117.5 357.6,1120.8 359.0,1122.6 C359.2,1122.4 359.2,1133.1 360.2,1121.4 C361.2,1109.7 363.3,1072.8 365.2,1052.2 C367.1,1031.6 369.1,1014.4 371.4,997.9 C373.7,981.4 376.4,965.6 378.8,953.5 C381.2,941.4 383.6,934.1 386.0,925.0 C388.4,915.9 390.9,906.5 393.0,898.7 C395.1,890.9 396.6,884.4 398.5,878.0 C400.4,871.6 402.4,864.7 404.5,860.2 C406.6,855.7 408.1,853.7 411.0,851.0 C413.9,848.3 420.0,845.1 421.8,843.9 C422.0,856.0 422.1,887.8 423.2,916.4 C424.2,945.0 426.2,990.5 428.1,1015.2 C430.0,1039.9 431.6,1051.0 434.3,1064.6 C437.0,1078.2 441.1,1088.3 444.2,1096.7 C447.3,1105.1 451.4,1112.1 452.8,1115.2 C454.1,1114.6 459.2,1112.0 460.5,1111.4 C460.7,1103.3 461.0,1086.5 461.9,1062.8 C462.8,1039.1 464.1,996.1 465.6,969.3 C467.2,942.5 469.0,923.2 471.2,902.0 C473.4,880.8 475.9,858.3 478.7,842.1 C481.5,825.9 484.4,816.6 488.1,804.7 C491.9,792.9 497.1,781.0 501.2,771.0 C505.2,761.0 508.2,757.9 512.4,744.8 C516.6,731.7 524.2,701.1 526.6,692.4 C526.7,707.4 526.5,742.3 527.3,782.2 C528.0,822.1 529.5,894.5 531.1,931.9 C532.7,969.3 534.5,986.1 536.7,1006.7 C538.9,1027.3 540.8,1043.5 544.2,1055.3 C547.6,1067.1 552.9,1071.9 557.3,1077.8 C561.7,1083.7 566.7,1085.3 570.4,1090.9 C574.1,1096.5 576.3,1105.8 579.7,1111.4 C583.1,1117.0 589.0,1122.3 590.9,1124.5" fill="none" stroke="#dc0a0a" stroke-width="4.8" stroke-linejoin="round" stroke-linecap="round"/>
<line x1="758.40" y1="1115.35" x2="763.60" y2="1115.35" stroke="#000" stroke-width="3.8" stroke-linecap="round"/>
<line x1="1282.60" y1="1115.35" x2="1277.40" y2="1115.35" stroke="#000" stroke-width="3.8" stroke-linecap="round"/>
<line x1="758.40" y1="1088.80" x2="770.60" y2="1088.80" stroke="#000" stroke-width="3.8" stroke-linecap="round"/>
<line x1="1282.60" y1="1088.80" x2="1270.40" y2="1088.80" stroke="#000" stroke-width="3.8" stroke-linecap="round"/>
<line x1="758.40" y1="1062.25" x2="763.60" y2="1062.25" stroke="#000" stroke-width="3.8" stroke-linecap="round"/>
<line x1="1282.60" y1="1062.25" x2="1277.40" y2="1062.25" stroke="#000" stroke-width="3.8" stroke-linecap="round"/>
<line x1="758.40" y1="1035.70" x2="770.60" y2="1035.70" stroke="#000" stroke-width="3.8" stroke-linecap="round"/>
<line x1="1282.60" y1="1035.70" x2="1270.40" y2="1035.70" stroke="#000" stroke-width="3.8" stroke-linecap="round"/>
<line x1="758.40" y1="1009.15" x2="763.60" y2="1009.15" stroke="#000" stroke-width="3.8" stroke-linecap="round"/>
<line x1="1282.60" y1="1009.15" x2="1277.40" y2="1009.15" stroke="#000" stroke-width="3.8" stroke-linecap="round"/>
<line x1="758.40" y1="982.60" x2="770.60" y2="982.60" stroke="#000" stroke-width="3.8" stroke-linecap="round"/>
<line x1="1282.60" y1="982.60" x2="1270.40" y2="982.60" stroke="#000" stroke-width="3.8" stroke-linecap="round"/>
<line x1="758.40" y1="956.05" x2="763.60" y2="956.05" stroke="#000" stroke-width="3.8" stroke-linecap="round"/>
<line x1="1282.60" y1="956.05" x2="1277.40" y2="956.05" stroke="#000" stroke-width="3.8" stroke-linecap="round"/>
<line x1="758.40" y1="929.50" x2="770.60" y2="929.50" stroke="#000" stroke-width="3.8" stroke-linecap="round"/>
<line x1="1282.60" y1="929.50" x2="1270.40" y2="929.50" stroke="#000" stroke-width="3.8" stroke-linecap="round"/>
<line x1="758.40" y1="902.95" x2="763.60" y2="902.95" stroke="#000" stroke-width="3.8" stroke-linecap="round"/>
<line x1="1282.60" y1="902.95" x2="1277.40" y2="902.95" stroke="#000" stroke-width="3.8" stroke-linecap="round"/>
<line x1="758.40" y1="876.40" x2="770.60" y2="876.40" stroke="#000" stroke-width="3.8" stroke-linecap="round"/>
<line x1="1282.60" y1="876.40" x2="1270.40" y2="876.40" stroke="#000" stroke-width="3.8" stroke-linecap="round"/>
<line x1="758.40" y1="849.85" x2="763.60" y2="849.85" stroke="#000" stroke-width="3.8" stroke-linecap="round"/>
<line x1="1282.60" y1="849.85" x2="1277.40" y2="849.85" stroke="#000" stroke-width="3.8" stroke-linecap="round"/>
<line x1="758.40" y1="823.30" x2="770.60" y2="823.30" stroke="#000" stroke-width="3.8" stroke-linecap="round"/>
<line x1="1282.60" y1="823.30" x2="1270.40" y2="823.30" stroke="#000" stroke-width="3.8" stroke-linecap="round"/>
<line x1="758.40" y1="796.75" x2="763.60" y2="796.75" stroke="#000" stroke-width="3.8" stroke-linecap="round"/>
<line x1="1282.60" y1="796.75" x2="1277.40" y2="796.75" stroke="#000" stroke-width="3.8" stroke-linecap="round"/>
<line x1="758.40" y1="770.20" x2="770.60" y2="770.20" stroke="#000" stroke-width="3.8" stroke-linecap="round"/>
<line x1="1282.60" y1="770.20" x2="1270.40" y2="770.20" stroke="#000" stroke-width="3.8" stroke-linecap="round"/>
<line x1="758.40" y1="743.65" x2="763.60" y2="743.65" stroke="#000" stroke-width="3.8" stroke-linecap="round"/>
<line x1="1282.60" y1="743.65" x2="1277.40" y2="743.65" stroke="#000" stroke-width="3.8" stroke-linecap="round"/>
<line x1="758.40" y1="717.10" x2="770.60" y2="717.10" stroke="#000" stroke-width="3.8" stroke-linecap="round"/>
<line x1="1282.60" y1="717.10" x2="1270.40" y2="717.10" stroke="#000" stroke-width="3.8" stroke-linecap="round"/>
<line x1="758.40" y1="690.55" x2="763.60" y2="690.55" stroke="#000" stroke-width="3.8" stroke-linecap="round"/>
<line x1="1282.60" y1="690.55" x2="1277.40" y2="690.55" stroke="#000" stroke-width="3.8" stroke-linecap="round"/>
<line x1="758.40" y1="664.00" x2="770.60" y2="664.00" stroke="#000" stroke-width="3.8" stroke-linecap="round"/>
<line x1="1282.60" y1="664.00" x2="1270.40" y2="664.00" stroke="#000" stroke-width="3.8" stroke-linecap="round"/>
<line x1="793.60" y1="1124.80" x2="793.60" y2="1108.60" stroke="#000" stroke-width="3.8" stroke-linecap="round"/>
<line x1="793.60" y1="640.60" x2="793.60" y2="656.30" stroke="#000" stroke-width="3.8" stroke-linecap="round"/>
<line x1="831.60" y1="1124.80" x2="831.60" y2="1117.10" stroke="#000" stroke-width="3.8" stroke-linecap="round"/>
<line x1="831.60" y1="640.60" x2="831.60" y2="648.30" stroke="#000" stroke-width="3.8" stroke-linecap="round"/>
<line x1="869.60" y1="1124.80" x2="869.60" y2="1108.60" stroke="#000" stroke-width="3.8" stroke-linecap="round"/>
<line x1="869.60" y1="640.60" x2="869.60" y2="656.30" stroke="#000" stroke-width="3.8" stroke-linecap="round"/>
<line x1="907.60" y1="1124.80" x2="907.60" y2="1117.10" stroke="#000" stroke-width="3.8" stroke-linecap="round"/>
<line x1="907.60" y1="640.60" x2="907.60" y2="648.30" stroke="#000" stroke-width="3.8" stroke-linecap="round"/>
<line x1="945.20" y1="1124.80" x2="945.20" y2="1108.60" stroke="#000" stroke-width="3.8" stroke-linecap="round"/>
<line x1="945.20" y1="640.60" x2="945.20" y2="656.30" stroke="#000" stroke-width="3.8" stroke-linecap="round"/>
<line x1="983.20" y1="1124.80" x2="983.20" y2="1117.10" stroke="#000" stroke-width="3.8" stroke-linecap="round"/>
<line x1="983.20" y1="640.60" x2="983.20" y2="648.30" stroke="#000" stroke-width="3.8" stroke-linecap="round"/>
<line x1="1020.40" y1="1124.80" x2="1020.40" y2="1108.60" stroke="#000" stroke-width="3.8" stroke-linecap="round"/>
<line x1="1020.40" y1="640.60" x2="1020.40" y2="656.30" stroke="#000" stroke-width="3.8" stroke-linecap="round"/>
<line x1="1058.40" y1="1124.80" x2="1058.40" y2="1117.10" stroke="#000" stroke-width="3.8" stroke-linecap="round"/>
<line x1="1058.40" y1="640.60" x2="1058.40" y2="648.30" stroke="#000" stroke-width="3.8" stroke-linecap="round"/>
<line x1="1095.80" y1="1124.80" x2="1095.80" y2="1108.60" stroke="#000" stroke-width="3.8" stroke-linecap="round"/>
<line x1="1095.80" y1="640.60" x2="1095.80" y2="656.30" stroke="#000" stroke-width="3.8" stroke-linecap="round"/>
<line x1="1133.80" y1="1124.80" x2="1133.80" y2="1117.10" stroke="#000" stroke-width="3.8" stroke-linecap="round"/>
<line x1="1133.80" y1="640.60" x2="1133.80" y2="648.30" stroke="#000" stroke-width="3.8" stroke-linecap="round"/>
<line x1="1171.40" y1="1124.80" x2="1171.40" y2="1108.60" stroke="#000" stroke-width="3.8" stroke-linecap="round"/>
<line x1="1171.40" y1="640.60" x2="1171.40" y2="656.30" stroke="#000" stroke-width="3.8" stroke-linecap="round"/>
<line x1="1209.40" y1="1124.80" x2="1209.40" y2="1117.10" stroke="#000" stroke-width="3.8" stroke-linecap="round"/>
<line x1="1209.40" y1="640.60" x2="1209.40" y2="648.30" stroke="#000" stroke-width="3.8" stroke-linecap="round"/>
<line x1="1247.00" y1="1124.80" x2="1247.00" y2="1108.60" stroke="#000" stroke-width="3.8" stroke-linecap="round"/>
<line x1="1247.00" y1="640.60" x2="1247.00" y2="656.30" stroke="#000" stroke-width="3.8" stroke-linecap="round"/>
<rect x="756.50" y="638.70" width="528.00" height="488.00" fill="none" stroke="#000" stroke-width="4.8" stroke-linejoin="miter"/>
<text transform="translate(658.94,649.00) scale(0.9429,1)" font-family="Liberation Sans" font-weight="bold" font-size="43.75" fill="#000">D</text>
<text transform="translate(731.45,1097.91) scale(0.8845,1)" font-family="Liberation Serif" font-weight="bold" font-size="40.01" fill="#000">0</text>
<text transform="translate(731.38,1044.80) scale(0.8721,1)" font-family="Liberation Serif" font-weight="bold" font-size="40.63" fill="#000">5</text>
<text transform="translate(715.62,991.71) scale(0.8361,1)" font-family="Liberation Serif" font-weight="bold" font-size="40.01" fill="#000">10</text>
<text transform="translate(715.63,938.61) scale(0.8287,1)" font-family="Liberation Serif" font-weight="bold" font-size="40.30" fill="#000">15</text>
<text transform="translate(716.95,885.51) scale(0.8015,1)" font-family="Liberation Serif" font-weight="bold" font-size="40.01" fill="#000">20</text>
<text transform="translate(716.96,832.41) scale(0.7967,1)" font-family="Liberation Serif" font-weight="bold" font-size="40.19" fill="#000">25</text>
<text transform="translate(717.10,779.31) scale(0.7977,1)" font-family="Liberation Serif" font-weight="bold" font-size="40.01" fill="#000">30</text>
<text transform="translate(717.10,726.21) scale(0.7929,1)" font-family="Liberation Serif" font-weight="bold" font-size="40.19" fill="#000">35</text>
<text transform="translate(717.87,673.11) scale(0.7775,1)" font-family="Liberation Serif" font-weight="bold" font-size="40.01" fill="#000">40</text>
<text transform="translate(785.88,1167.90) scale(0.7324,1)" font-family="Liberation Serif" font-weight="bold" font-size="43.02" fill="#000">1</text>
<text transform="translate(853.52,1167.49) scale(0.7652,1)" font-family="Liberation Serif" font-weight="bold" font-size="42.09" fill="#000">10</text>
<text transform="translate(927.69,1167.49) scale(0.7955,1)" font-family="Liberation Serif" font-weight="bold" font-size="42.09" fill="#000">20</text>
<text transform="translate(1003.73,1167.49) scale(0.7995,1)" font-family="Liberation Serif" font-weight="bold" font-size="42.09" fill="#000">30</text>
<text transform="translate(1080.67,1167.49) scale(0.7492,1)" font-family="Liberation Serif" font-weight="bold" font-size="42.09" fill="#000">40</text>
<text transform="translate(1154.70,1167.49) scale(0.7732,1)" font-family="Liberation Serif" font-weight="bold" font-size="42.09" fill="#000">50</text>
<text transform="translate(1222.60,1167.49) scale(0.7721,1)" font-family="Liberation Serif" font-weight="bold" font-size="42.09" fill="#000">100</text>
<text transform="translate(770.68,1221.90) scale(0.8516,1)" font-family="Liberation Serif" font-weight="bold" font-size="49.79" fill="#000" >Formaldehyde Conc. (ppm)</text>
<text transform="translate(698.70,1044.00) rotate(-90) scale(1.1912,1)" font-family="Liberation Serif" font-weight="bold" font-size="44.44" >Response</text>
<text transform="translate(697.78,754.33) rotate(-90) scale(1.4272,1)" font-family="Liberation Serif" font-weight="bold" font-size="31.10">)</text>
<text transform="translate(698.61,809.02) rotate(-90) scale(1.2796,1)" font-family="Liberation Serif" font-weight="bold" font-size="45.12">%</text>
<text transform="translate(697.78,819.37) rotate(-90) scale(1.4397,1)" font-family="Liberation Serif" font-weight="bold" font-size="31.10">(</text>
<path d="M793.0,1070.5 L795.5,1070.0 L798.1,1069.5 L800.6,1069.0 L803.1,1068.5 L805.6,1068.0 L808.2,1067.5 L810.7,1067.0 L813.2,1066.5 L815.8,1065.9 L818.3,1065.4 L820.8,1064.9 L823.4,1064.3 L825.9,1063.8 L828.4,1063.2 L831.0,1062.7 L833.5,1062.1 L836.0,1061.5 L838.5,1060.9 L841.1,1060.3 L843.6,1059.7 L846.1,1059.1 L848.7,1058.4 L851.2,1057.8 L853.7,1057.1 L856.2,1056.4 L858.8,1055.7 L861.3,1055.0 L863.8,1054.3 L866.4,1053.6 L868.9,1052.8 L871.4,1052.0 L873.9,1051.2 L876.4,1050.4 L878.9,1049.6 L881.4,1048.8 L883.9,1047.9 L886.4,1047.1 L888.9,1046.2 L891.4,1045.3 L893.9,1044.4 L896.4,1043.5 L898.9,1042.6 L901.4,1041.7 L903.9,1040.8 L906.4,1039.9 L908.9,1038.9 L911.4,1038.0 L913.9,1037.0 L916.4,1036.1 L918.9,1035.2 L921.4,1034.2 L923.9,1033.3 L926.4,1032.3 L928.9,1031.4 L931.4,1030.4 L933.9,1029.5 L936.4,1028.6 L938.9,1027.6 L941.4,1026.7 L943.9,1025.8 L946.4,1024.9 L949.0,1024.0 L951.5,1023.1 L954.0,1022.2 L956.5,1021.3 L959.1,1020.4 L961.6,1019.5 L964.1,1018.6 L966.7,1017.8 L969.2,1016.9 L971.7,1016.0 L974.3,1015.1 L976.8,1014.3 L979.3,1013.4 L981.8,1012.5 L984.4,1011.7 L986.9,1010.8 L989.4,1009.9 L992.0,1009.1 L994.5,1008.2 L997.0,1007.3 L999.6,1006.4 L1002.1,1005.6 L1004.6,1004.7 L1007.1,1003.8 L1009.7,1002.9 L1012.2,1002.0 L1014.7,1001.1 L1017.3,1000.1 L1019.8,999.2 L1022.3,998.3 L1024.7,997.4 L1027.2,996.4 L1029.7,995.5 L1032.1,994.5 L1034.6,993.5 L1037.1,992.5 L1039.5,991.4 L1042.0,990.4 L1044.5,989.3 L1046.9,988.1 L1049.4,986.9 L1051.9,985.7 L1054.3,984.5 L1056.8,983.2 L1059.3,981.8 L1061.7,980.5 L1064.2,979.0 L1066.7,977.5 L1069.1,976.0 L1071.6,974.4 L1074.1,972.7 L1076.5,970.9 L1079.0,969.1 L1081.5,967.3 L1083.9,965.3 L1086.4,963.3 L1088.9,961.2 L1091.3,959.1 L1093.8,956.8 L1096.3,954.4 L1098.8,952.0 L1101.3,949.4 L1103.8,946.8 L1106.3,944.1 L1108.8,941.3 L1111.3,938.4 L1113.8,935.5 L1116.3,932.4 L1118.8,929.3 L1121.3,926.1 L1123.8,922.8 L1126.3,919.5 L1128.8,916.0 L1131.3,912.5 L1133.8,908.9 L1136.3,905.2 L1138.8,901.5 L1141.3,897.6 L1143.8,893.7 L1146.3,889.7 L1148.8,885.7 L1151.3,881.5 L1153.8,877.3 L1156.3,873.0 L1158.8,868.7 L1161.3,864.2 L1163.8,859.7 L1166.3,855.2 L1168.8,850.5 L1171.4,845.6 L1173.9,840.7 L1176.5,835.7 L1179.1,830.6 L1181.7,825.5 L1184.2,820.3 L1186.8,815.0 L1189.4,809.7 L1192.0,804.3 L1194.5,798.9 L1197.1,793.4 L1199.7,787.9 L1202.3,782.3 L1204.8,776.7 L1207.4,771.0 L1210.0,765.3 L1212.5,759.6 L1215.1,753.8 L1217.7,748.0 L1220.3,742.2 L1222.8,736.4 L1225.4,730.5 L1228.0,724.6 L1230.6,718.7 L1233.1,712.8 L1235.7,706.8 L1238.3,700.9 L1240.9,694.9 L1243.4,689.0 L1246.0,683.0" fill="none" stroke="#dc0a0a" stroke-width="5.5" stroke-linecap="round" stroke-linejoin="round"/>
<ellipse cx="793.0" cy="1071.9" rx="10" ry="12" fill="url(#bg)"/>
<ellipse cx="868.9" cy="1054.0" rx="10" ry="12" fill="url(#bg)"/>
<ellipse cx="943.9" cy="1027.0" rx="10" ry="12" fill="url(#bg)"/>
<ellipse cx="1020.3" cy="1001.6" rx="10" ry="12" fill="url(#bg)"/>
<ellipse cx="1095.5" cy="962.5" rx="10" ry="12" fill="url(#bg)"/>
<ellipse cx="1171.0" cy="856.2" rx="10" ry="12" fill="url(#bg)"/>
<ellipse cx="1246.9" cy="681.2" rx="10" ry="12" fill="url(#bg)"/>
<rect x="830.5" y="666.5" width="242.20000000000005" height="261.20000000000005" fill="#fff" stroke="none"/>
<line x1="831.80" y1="904.00" x2="837.20" y2="904.00" stroke="#000" stroke-width="2.6" stroke-linecap="round"/>
<line x1="1071.40" y1="904.00" x2="1066.00" y2="904.00" stroke="#000" stroke-width="2.6" stroke-linecap="round"/>
<line x1="831.80" y1="864.15" x2="833.70" y2="864.15" stroke="#000" stroke-width="2.6" stroke-linecap="round"/>
<line x1="1071.40" y1="864.15" x2="1069.50" y2="864.15" stroke="#000" stroke-width="2.6" stroke-linecap="round"/>
<line x1="831.80" y1="824.30" x2="837.20" y2="824.30" stroke="#000" stroke-width="2.6" stroke-linecap="round"/>
<line x1="1071.40" y1="824.30" x2="1066.00" y2="824.30" stroke="#000" stroke-width="2.6" stroke-linecap="round"/>
<line x1="831.80" y1="784.45" x2="833.70" y2="784.45" stroke="#000" stroke-width="2.6" stroke-linecap="round"/>
<line x1="1071.40" y1="784.45" x2="1069.50" y2="784.45" stroke="#000" stroke-width="2.6" stroke-linecap="round"/>
<line x1="831.80" y1="744.60" x2="837.20" y2="744.60" stroke="#000" stroke-width="2.6" stroke-linecap="round"/>
<line x1="1071.40" y1="744.60" x2="1066.00" y2="744.60" stroke="#000" stroke-width="2.6" stroke-linecap="round"/>
<line x1="831.80" y1="704.75" x2="833.70" y2="704.75" stroke="#000" stroke-width="2.6" stroke-linecap="round"/>
<line x1="1071.40" y1="704.75" x2="1069.50" y2="704.75" stroke="#000" stroke-width="2.6" stroke-linecap="round"/>
<line x1="853.60" y1="926.40" x2="853.60" y2="920.00" stroke="#000" stroke-width="2.6" stroke-linecap="round"/>
<line x1="853.60" y1="667.80" x2="853.60" y2="675.20" stroke="#000" stroke-width="2.6" stroke-linecap="round"/>
<line x1="877.95" y1="926.40" x2="877.95" y2="924.00" stroke="#000" stroke-width="2.6" stroke-linecap="round"/>
<line x1="877.95" y1="667.80" x2="877.95" y2="670.70" stroke="#000" stroke-width="2.6" stroke-linecap="round"/>
<line x1="902.30" y1="926.40" x2="902.30" y2="920.00" stroke="#000" stroke-width="2.6" stroke-linecap="round"/>
<line x1="902.30" y1="667.80" x2="902.30" y2="675.20" stroke="#000" stroke-width="2.6" stroke-linecap="round"/>
<line x1="926.90" y1="926.40" x2="926.90" y2="924.00" stroke="#000" stroke-width="2.6" stroke-linecap="round"/>
<line x1="926.90" y1="667.80" x2="926.90" y2="670.70" stroke="#000" stroke-width="2.6" stroke-linecap="round"/>
<line x1="951.50" y1="926.40" x2="951.50" y2="920.00" stroke="#000" stroke-width="2.6" stroke-linecap="round"/>
<line x1="951.50" y1="667.80" x2="951.50" y2="675.20" stroke="#000" stroke-width="2.6" stroke-linecap="round"/>
<line x1="975.75" y1="926.40" x2="975.75" y2="924.00" stroke="#000" stroke-width="2.6" stroke-linecap="round"/>
<line x1="975.75" y1="667.80" x2="975.75" y2="670.70" stroke="#000" stroke-width="2.6" stroke-linecap="round"/>
<line x1="1000.00" y1="926.40" x2="1000.00" y2="920.00" stroke="#000" stroke-width="2.6" stroke-linecap="round"/>
<line x1="1000.00" y1="667.80" x2="1000.00" y2="675.20" stroke="#000" stroke-width="2.6" stroke-linecap="round"/>
<line x1="1024.35" y1="926.40" x2="1024.35" y2="924.00" stroke="#000" stroke-width="2.6" stroke-linecap="round"/>
<line x1="1024.35" y1="667.80" x2="1024.35" y2="670.70" stroke="#000" stroke-width="2.6" stroke-linecap="round"/>
<line x1="1048.70" y1="926.40" x2="1048.70" y2="920.00" stroke="#000" stroke-width="2.6" stroke-linecap="round"/>
<line x1="1048.70" y1="667.80" x2="1048.70" y2="675.20" stroke="#000" stroke-width="2.6" stroke-linecap="round"/>
<rect x="830.50" y="666.50" width="242.20" height="261.20" fill="none" stroke="#000" stroke-width="3.2" stroke-linejoin="miter"/>
<text transform="translate(815.99,913.35) scale(0.8331,1)" font-family="Liberation Serif" font-weight="bold" font-size="25.49" fill="#000">0</text>
<text transform="translate(815.95,833.65) scale(0.8214,1)" font-family="Liberation Serif" font-weight="bold" font-size="25.88" fill="#000">5</text>
<text transform="translate(805.84,753.95) scale(0.8142,1)" font-family="Liberation Serif" font-weight="bold" font-size="25.49" fill="#000">10</text>
<text transform="translate(805.84,674.25) scale(0.8069,1)" font-family="Liberation Serif" font-weight="bold" font-size="25.67" fill="#000">15</text>
<text transform="translate(847.73,951.43) scale(0.8787,1)" font-family="Liberation Serif" font-weight="bold" font-size="27.69" fill="#000">5</text>
<text transform="translate(891.33,951.43) scale(0.7652,1)" font-family="Liberation Serif" font-weight="bold" font-size="27.27" fill="#000">10</text>
<text transform="translate(941.36,951.43) scale(0.7335,1)" font-family="Liberation Serif" font-weight="bold" font-size="27.27" fill="#000">20</text>
<text transform="translate(989.35,951.43) scale(0.7340,1)" font-family="Liberation Serif" font-weight="bold" font-size="27.27" fill="#000">30</text>
<text transform="translate(1038.53,951.43) scale(0.7310,1)" font-family="Liberation Serif" font-weight="bold" font-size="27.27" fill="#000">40</text>
<text transform="translate(866.93,977.60) scale(0.8009,1)" font-family="Liberation Serif" font-weight="bold" font-size="37.50" fill="#000" >Conc. (ppm)</text>
<text transform="translate(799.90,908.08) rotate(-90) scale(1.2323,1)" font-family="Liberation Serif" font-weight="bold" font-size="32.07" >Response</text>
<text transform="translate(799.73,687.28) rotate(-90) scale(1.2861,1)" font-family="Liberation Serif" font-weight="bold" font-size="30.88">)</text>
<text transform="translate(800.75,728.78) rotate(-90) scale(1.1930,1)" font-family="Liberation Serif" font-weight="bold" font-size="34.21">%</text>
<text transform="translate(799.73,740.00) rotate(-90) scale(1.3239,1)" font-family="Liberation Serif" font-weight="bold" font-size="30.88">(</text>
<rect x="835.6" y="677" width="190" height="63" fill="#fff" stroke="#c8c8c8" stroke-width="1.5"/>
<ellipse cx="848.0" cy="697.0" rx="5" ry="6.3" fill="url(#bg)"/>
<line x1="837.00" y1="729.60" x2="860.00" y2="729.60" stroke="#dc0a0a" stroke-width="2.6" stroke-linecap="round"/>
<text transform="translate(865.26,701.60) scale(0.7866,1)" font-family="Liberation Serif" font-weight="bold" font-size="25.30" fill="#000" >Experimental data</text>
<text transform="translate(865.26,733.60) scale(0.7825,1)" font-family="Liberation Serif" font-weight="bold" font-size="25.30" fill="#000" >Linear fit</text>
<line x1="853.00" y1="887.50" x2="1049.60" y2="724.40" stroke="#dc0a0a" stroke-width="2.6" stroke-linecap="round"/>
<ellipse cx="853.6" cy="878.0" rx="4.8" ry="6" fill="url(#bg)"/>
<ellipse cx="902.3" cy="852.1" rx="4.8" ry="6" fill="url(#bg)"/>
<ellipse cx="951.3" cy="812.4" rx="4.8" ry="6" fill="url(#bg)"/>
<ellipse cx="999.7" cy="774.3" rx="4.8" ry="6" fill="url(#bg)"/>
<ellipse cx="1048.4" cy="714.0" rx="4.8" ry="6" fill="url(#bg)"/>
<text transform="translate(975.58,899.90) scale(0.7122,1)" font-family="Liberation Serif" font-weight="bold" font-size="25.96" fill="#000">R</text>
<text transform="translate(989.83,893.40) scale(1.0729,1)" font-family="Liberation Serif" font-weight="bold" font-size="17.07" fill="#000">2</text>
<text transform="translate(1002.69,899.90) scale(0.7842,1)" font-family="Liberation Serif" font-weight="bold" font-size="25.96" fill="#000" >=0.973</text>
</svg>
</body></html>
